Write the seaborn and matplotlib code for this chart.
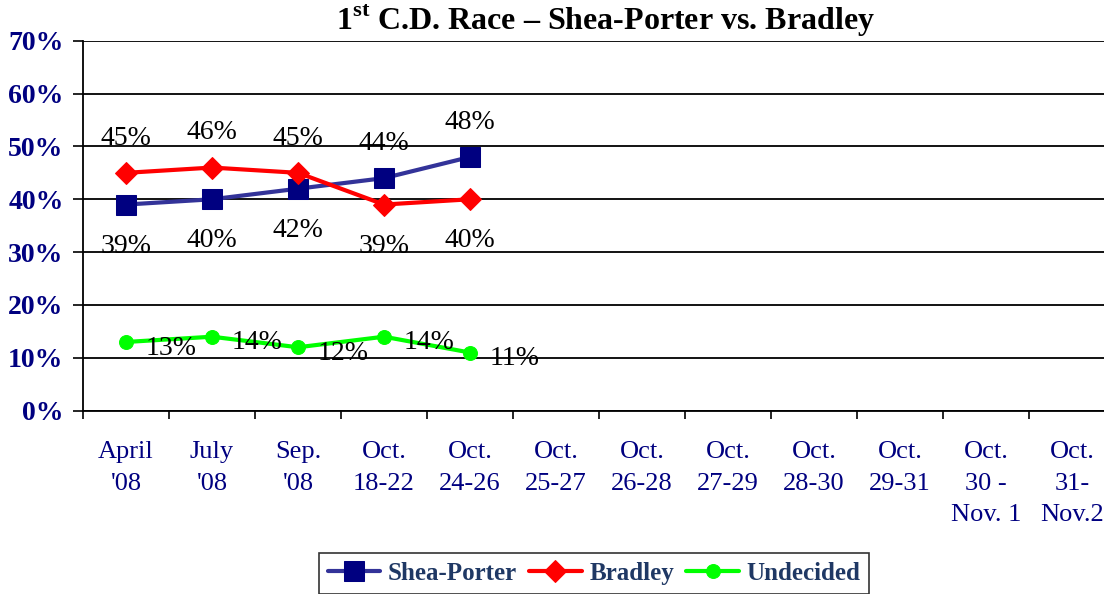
import numpy as np
import pandas as pd
import matplotlib
matplotlib.use("Agg")
import matplotlib.pyplot as plt
import seaborn as sns

categories = ["April\n'08", "July\n'08", "Sep.\n'08", "Oct.\n18-22", "Oct.\n24-26",
              "Oct.\n25-27", "Oct.\n26-28", "Oct.\n27-29", "Oct.\n28-30", "Oct.\n29-31",
              "Oct.\n30 -\nNov. 1", "Oct.\n31-\nNov.2"]
shea_porter = [39, 40, 42, 44, 48]
bradley = [45, 46, 45, 39, 40]
undecided = [13, 14, 12, 14, 11]
y_ticks = [0, 10, 20, 30, 40, 50, 60, 70]

sns.set_theme(style="white")
plt.rcParams['font.family'] = ['Liberation Serif', 'DejaVu Serif']
plt.rcParams['mathtext.fontset'] = 'custom'
plt.rcParams['mathtext.rm'] = 'Liberation Serif'
plt.rcParams['mathtext.bf'] = 'Liberation Serif:bold'

NAVY = "#000080"
fig = plt.figure(figsize=(11.04, 5.94), dpi=100)
ax = fig.add_axes([83 / 1104, (594 - 410.7) / 594, 1032 / 1104, 370 / 594])

series = [
    ("Shea-Porter", shea_porter, "#333399", "s", NAVY, 15),
    ("Bradley", bradley, "#FF0000", "D", "#FF0000", 11),
    ("Undecided", undecided, "#00FF00", "o", "#00FF00", 10),
]
for name, vals, lc, mk, mc, ms in series:
    xs = np.arange(len(vals))
    sns.lineplot(x=xs, y=vals, ax=ax, color=lc, linewidth=3, marker=mk,
                 markersize=ms, markerfacecolor=mc, markeredgecolor=mc,
                 label=name, legend=False, zorder=3)

# data labels
for i in range(len(shea_porter)):
    sp, br = shea_porter[i], bradley[i]
    for v, other in ((sp, br), (br, sp)):
        if v >= other:
            ax.annotate(f"{v}%", (i, v), xytext=(0, 25), textcoords="offset points",
                        ha="center", va="center", fontsize=20, color="black")
        else:
            ax.annotate(f"{v}%", (i, v), xytext=(0, -30), textcoords="offset points",
                        ha="center", va="center", fontsize=20, color="black")
for i, v in enumerate(undecided):
    ax.annotate(f"{v}%", (i, v), xytext=(14, -4.5), textcoords="offset points",
                ha="left", va="center", fontsize=20, color="black")

ax.set_xlim(-0.5, len(categories) - 0.5)
ax.set_ylim(0, 70)
ax.set_yticks(y_ticks)
ax.set_yticklabels([f"{t}%" for t in y_ticks], fontsize=20, fontweight="bold", color=NAVY)
ax.yaxis.grid(True, color="black", linewidth=1.3)
ax.set_axisbelow(True)

ax.set_xticks(np.arange(len(categories) + 1) - 0.5)
ax.set_xticklabels([])
ax.set_xticks(np.arange(len(categories)), minor=True)
ax.set_xticklabels(categories, minor=True, fontsize=19, color=NAVY, linespacing=1.55, va="top")
ax.tick_params(axis="x", which="major", direction="out", length=6, width=1.2, color="black", bottom=True)
ax.tick_params(axis="x", which="minor", length=0, pad=22)
ax.tick_params(axis="y", direction="out", length=7, width=1.2, color="black", left=True, pad=7)

for s in ["top", "right"]:
    ax.spines[s].set_visible(False)
for s in ["left", "bottom"]:
    ax.spines[s].set_color("black")
    ax.spines[s].set_linewidth(1.3)

fig.text(605 / 1104, 1 - 3 / 594, r"1$^{\mathbf{st}}$ C.D. Race – Shea-Porter vs. Bradley",
         ha="center", va="top", fontsize=23, fontweight="bold", color="black")

handles, labels = ax.get_legend_handles_labels()
leg = fig.legend(handles, labels, loc="upper center", bbox_to_anchor=(594 / 1104, 41 / 594),
                 ncol=3, frameon=True, fancybox=False, edgecolor="black",
                 prop={"size": 18, "weight": "bold"}, handlelength=2.1, handletextpad=0.3,
                 columnspacing=0.5, borderpad=0.35, borderaxespad=0)
leg.get_frame().set_linewidth(1.2)
for t in leg.get_texts():
    t.set_color("#1F3864")

fig.savefig("out.png", dpi=100)
